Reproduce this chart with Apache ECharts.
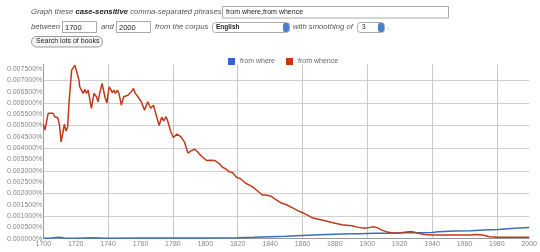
<!DOCTYPE html>
<html><head><meta charset="utf-8">
<script src="https://cdn.jsdelivr.net/npm/echarts@6/dist/echarts.min.js"></script>
<style>html,body{margin:0;padding:0;background:#fff}#c{width:540px;height:252px}</style>
</head><body><div id="c"></div>
<script>
const seriesNames = ['from where', 'from whence'];
const xTicks = [1700, 2000, 20];
const whereYears = [1700,1705,1710,1713,1720,1730,1740,1760,1780,1800,1820,1830,1840,1850,1860,1870,1880,1890,1895,1905,1913,1921,1931,1940,1944,1954,1964,1972,1981,1991,2000];
const whereVals  = [0.00002,0.00003,0.00006,0.00003,0.00002,0.00004,0.00002,0.00003,0.00003,0.00003,0.00004,0.00006,0.00009,0.00011,0.00014,0.00017,0.0002,0.00022,0.00022,0.00024,0.00024,0.00026,0.00026,0.00027,0.00031,0.00034,0.00035,0.00038,0.00041,0.00046,0.00049];
const whenceYears = [1700,1701,1702,1703,1704,1706,1707,1709,1710,1711,1712,1713,1714,1715,1716,1717.5,1718.5,1719.5,1720.5,1722,1722.5,1723.6,1724.6,1725.6,1726.6,1727.7,1728.7,1729.7,1731.3,1732.8,1733.8,1734.8,1736.3,1737,1738,1739.3,1740.6,1741.6,1742.6,1743.6,1744.6,1745.7,1746.7,1748.2,1749.6,1752.2,1754.3,1755.7,1756.8,1758.4,1760.5,1762.5,1764.5,1766.3,1768,1769.7,1771.5,1773.1,1774.3,1775.8,1776.8,1778.6,1780.3,1782.5,1785,1787.1,1789.3,1791.2,1793.5,1795.2,1798,1801,1803.5,1806,1808.6,1810.6,1812.7,1814.7,1816.8,1819.3,1821.8,1825,1829,1832.1,1835.2,1837.2,1840.3,1843.4,1846.5,1849.5,1853.6,1857.7,1859.8,1862.8,1865.9,1872,1878.2,1884.3,1890.5,1894.6,1898.7,1901.8,1903.8,1905.8,1909,1913,1917,1921,1925.3,1928,1931.5,1935.6,1939.6,1948,1956,1964,1967,1971,1975.5,1980.6,1989,2000];
const whenceVals = [0.00506,0.0048,0.00475,0.00554,0.00558,0.00554,0.00539,0.00534,0.00502,0.00428,0.00465,0.00506,0.00475,0.00492,0.00612,0.00745,0.00748,0.00767,0.00762,0.00701,0.00671,0.00664,0.00642,0.0066,0.00642,0.00656,0.0066,0.00576,0.00642,0.00627,0.00605,0.00642,0.00686,0.00679,0.00627,0.006,0.00671,0.0066,0.00645,0.00656,0.00642,0.00656,0.00642,0.0059,0.00627,0.00634,0.00649,0.00664,0.00642,0.00627,0.00605,0.00568,0.00605,0.00576,0.0059,0.00546,0.005,0.00537,0.0052,0.00539,0.0052,0.00475,0.00447,0.00462,0.0045,0.00428,0.00378,0.00388,0.00395,0.00384,0.00362,0.00345,0.00347,0.00345,0.00332,0.00316,0.00308,0.00296,0.00292,0.00271,0.00265,0.00245,0.0023,0.00212,0.00193,0.00193,0.00189,0.00174,0.00159,0.00152,0.00137,0.00122,0.00116,0.00105,0.00093,0.00083,0.00072,0.00062,0.00057,0.0005,0.00046,0.0005,0.00053,0.0005,0.00038,0.00028,0.00024,0.00026,0.00031,0.00031,0.00024,0.00019,0.00016,0.00016,0.00016,0.00016,0.00019,0.00016,0.00009,0.00006,0.00006,0.00006];
const yMax = 0.0077, yStep = 0.0005;
const formTexts = {
  intro1: 'Graph these ', bold: 'case-sensitive', intro2: ' comma-separated phrases:',
  phrases: 'from where,from whence', between: 'between', start: '1700', and: 'and', end: '2000',
  corpusLbl: 'from the corpus', corpus: 'English', smoothLbl: 'with smoothing of', smooth: '3', dot: '.',
  button: 'Search lots of books'
};
const F = '"Liberation Sans", Arial, sans-serif';
function pair(a, b) { return a.map((v, i) => [v, b[i]]); }
function box(x, y, w, h, r) { return { type: 'rect', shape: { x: x, y: y, width: w, height: h, r: r || 0 }, style: { fill: '#fff', stroke: '#aaa', lineWidth: 1 }, z: 9 }; }
const T = formTexts;
const graphics = [
  { type: 'text', x: 31, y: 8, style: {
      text: '{a|' + T.intro1 + '}{b|' + T.bold + '}{a|' + T.intro2 + '}',
      rich: { a: { font: 'italic 7.7px ' + F, fill: '#555' }, b: { font: 'italic bold 7.7px ' + F, fill: '#222' } } } },
  box(222.5, 6.5, 226, 11.5),
  { type: 'text', x: 226, y: 8.5, style: { text: T.phrases, font: '7px ' + F, fill: '#222' }, z: 10 },
  { type: 'text', x: 31, y: 23, style: { text: T.between, font: 'italic 7.7px ' + F, fill: '#555' } },
  box(62.5, 21.5, 34, 11),
  { type: 'text', x: 65, y: 23.5, style: { text: T.start, font: '7.5px ' + F, fill: '#222' }, z: 10 },
  { type: 'text', x: 101, y: 23, style: { text: T.and, font: 'italic 7.7px ' + F, fill: '#555' } },
  box(116.5, 21.5, 34, 11),
  { type: 'text', x: 119, y: 23.5, style: { text: T.end, font: '7.5px ' + F, fill: '#222' }, z: 10 },
  { type: 'text', x: 155, y: 23, style: { text: T.corpusLbl, font: 'italic 7.7px ' + F, fill: '#555' } },
  box(212.5, 22.5, 77, 10, 3),
  { type: 'rect', shape: { x: 283, y: 23, width: 6, height: 9, r: 2 }, style: { fill: '#4a7fd0' }, z: 10 },
  { type: 'text', x: 216, y: 24, style: { text: T.corpus, font: 'bold 6.5px ' + F, fill: '#222' }, z: 10 },
  { type: 'text', x: 293, y: 23, style: { text: T.smoothLbl, font: 'italic 7.7px ' + F, fill: '#555' } },
  box(357.5, 22.5, 27, 10, 3),
  { type: 'rect', shape: { x: 378, y: 23, width: 6, height: 9, r: 2 }, style: { fill: '#4a7fd0' }, z: 10 },
  { type: 'text', x: 362, y: 24, style: { text: T.smooth, font: '6.5px ' + F, fill: '#222' }, z: 10 },
  { type: 'text', x: 387, y: 23, style: { text: T.dot, font: '8px ' + F, fill: '#555' } },
  { type: 'rect', shape: { x: 31.5, y: 36.5, width: 71, height: 10.5, r: 5 }, style: { fill: '#f4f4f4', stroke: '#999', lineWidth: 1 }, z: 9 },
  { type: 'text', x: 36, y: 38, style: { text: T.button, font: '7px ' + F, fill: '#222' }, z: 10 }
];
const chart = echarts.init(document.getElementById('c'), null, { renderer: 'canvas' });
chart.setOption({
  animation: false,
  backgroundColor: '#fff',
  textStyle: { fontFamily: F },
  graphic: graphics,
  legend: {
    data: seriesNames, left: 223, top: 53, icon: 'rect', itemWidth: 7, itemHeight: 7, itemGap: 11,
    textStyle: { fontSize: 7, color: '#666', fontFamily: F }
  },
  grid: { left: 43.3, right: 8.2, top: 64.4, bottom: 13.3, containLabel: false },
  xAxis: {
    type: 'value', min: xTicks[0], max: xTicks[1], interval: xTicks[2],
    axisLine: { lineStyle: { color: '#999', width: 1 } }, axisTick: { show: false },
    axisLabel: { fontSize: 7, color: '#888', margin: 2, fontFamily: F, showMaxLabel: true, formatter: v => String(v) },
    splitLine: { show: true, showMaxLine: false, lineStyle: { color: ['#c8c8c8', 'rgba(0,0,0,0)'], width: 1 } }
  },
  yAxis: {
    type: 'value', min: 0, max: yMax, interval: yStep,
    axisLine: { show: true, lineStyle: { color: '#999', width: 1 } }, axisTick: { show: false },
    axisLabel: { fontSize: 7, color: '#888', margin: 1, fontFamily: F, showMaxLabel: false, formatter: v => v.toFixed(6) + '%' },
    splitLine: { show: true, showMaxLine: false, lineStyle: { color: ['#d0d0d0', 'rgba(0,0,0,0)'], width: 1 } }
  },
  series: [
    { name: seriesNames[0], type: 'line', data: pair(whereYears, whereVals), showSymbol: false, symbol: 'none', color: '#3366cc', lineStyle: { width: 1.5, color: '#3a6fb8' }, z: 3 },
    { name: seriesNames[1], type: 'line', data: pair(whenceYears, whenceVals), showSymbol: false, symbol: 'none', color: '#cc3311', lineStyle: { width: 1.5, color: '#c0391b' }, z: 4 }
  ]
});
</script></body></html>
